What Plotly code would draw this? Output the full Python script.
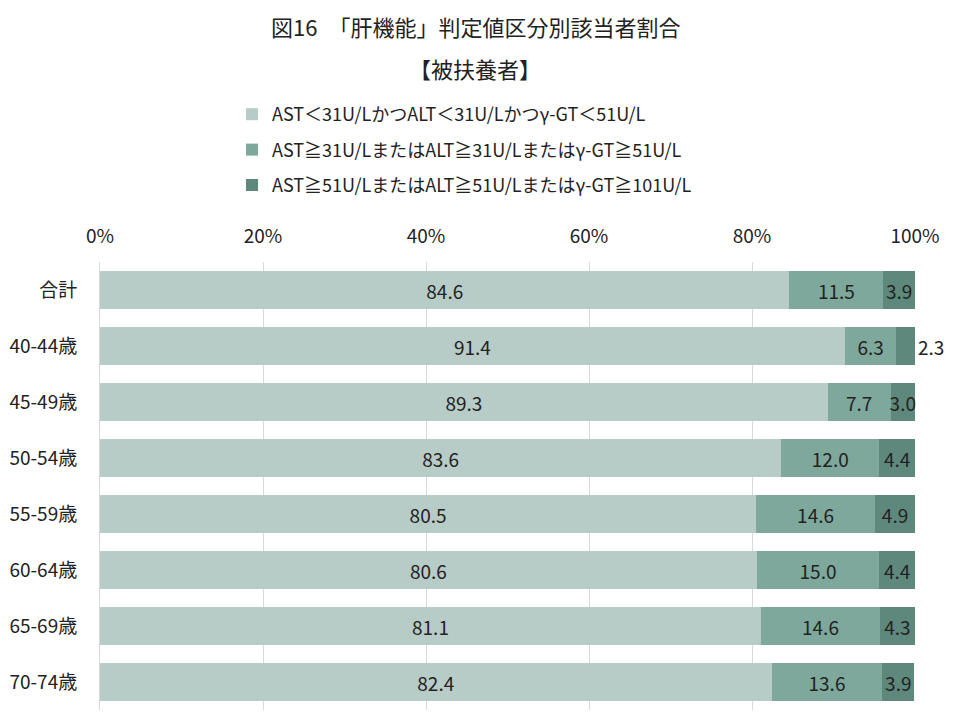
import plotly.graph_objects as go

categories = ["合計", "40-44歳", "45-49歳", "50-54歳", "55-59歳", "60-64歳", "65-69歳", "70-74歳"]
normal = [84.6, 91.4, 89.3, 83.6, 80.5, 80.6, 81.1, 82.4]
caution = [11.5, 6.3, 7.7, 12.0, 14.6, 15.0, 14.6, 13.6]
severe = [3.9, 2.3, 3.0, 4.4, 4.9, 4.4, 4.3, 3.9]
series_names = [
    "AST＜31U/LかつALT＜31U/Lかつγ-GT＜51U/L",
    "AST≧31U/LまたはALT≧31U/Lまたはγ-GT≧51U/L",
    "AST≧51U/LまたはALT≧51U/Lまたはγ-GT≧101U/L",
]
colors = ["#b7ccc6", "#7ea89c", "#5f887d"]
FONT = "Noto Sans CJK JP"
TXT = "#222222"

L, R, T, B = 92, 53, 254, 18
PW = 960 - L - R
PH = 720 - T - B

fig = go.Figure()
for i, (vals, name, col) in enumerate(zip([normal, caution, severe], series_names, colors)):
    if i == 2:
        pos = ["outside" if v < 2.5 else "inside" for v in vals]
    else:
        pos = "inside"
    fig.add_trace(go.Bar(
        y=categories, x=vals, name=name, orientation="h",
        marker=dict(color=col, line=dict(width=0)),
        text=[f"{v:.1f}" for v in vals], textposition=pos,
        insidetextanchor="middle",
        textfont=dict(family=FONT, size=19, color=TXT),
        legendgroup=f"g{i}", cliponaxis=False,
    ))

fig.update_layout(
    barmode="stack", bargap=0.32,
    width=960, height=720,
    margin=dict(l=L, r=R, t=T, b=B, autoexpand=False),
    plot_bgcolor="white", paper_bgcolor="white",
    font=dict(family=FONT, size=18, color=TXT),
    uniformtext=dict(minsize=19, mode="show"),
    showlegend=True,
    legend=dict(x=(224 - L) / PW, y=(720 - B - 88) / PH, xanchor="left", yanchor="top",
                traceorder="grouped", tracegroupgap=9,
                font=dict(family=FONT, size=18, color=TXT),
                itemwidth=30, bgcolor="rgba(0,0,0,0)"),
    xaxis=dict(side="top", range=[0, 100], dtick=20, ticksuffix="%",
               showgrid=True, gridcolor="#d9d9d9", gridwidth=1,
               zeroline=False, showline=False, ticks="", automargin=False,
               ticklabelstandoff=14,
               tickfont=dict(family=FONT, size=19, color=TXT)),
    yaxis=dict(autorange="reversed", showgrid=False, showline=True,
               linecolor="#d9d9d9", ticks="", automargin=False,
               ticklabelstandoff=18,
               tickfont=dict(family=FONT, size=19, color=TXT)),
    annotations=[
        dict(text="図16　「肝機能」判定値区分別該当者割合", xref="paper", yref="paper",
             x=(467 - L) / PW, y=(720 - B - 18) / PH, xanchor="center", yanchor="middle",
             showarrow=False, font=dict(family=FONT, size=22, color=TXT)),
        dict(text="【被扶養者】", xref="paper", yref="paper",
             x=(467 - L) / PW, y=(720 - B - 60) / PH, xanchor="center", yanchor="middle",
             showarrow=False, font=dict(family=FONT, size=22, color=TXT)),
    ],
)

fig.write_html("out.html")
